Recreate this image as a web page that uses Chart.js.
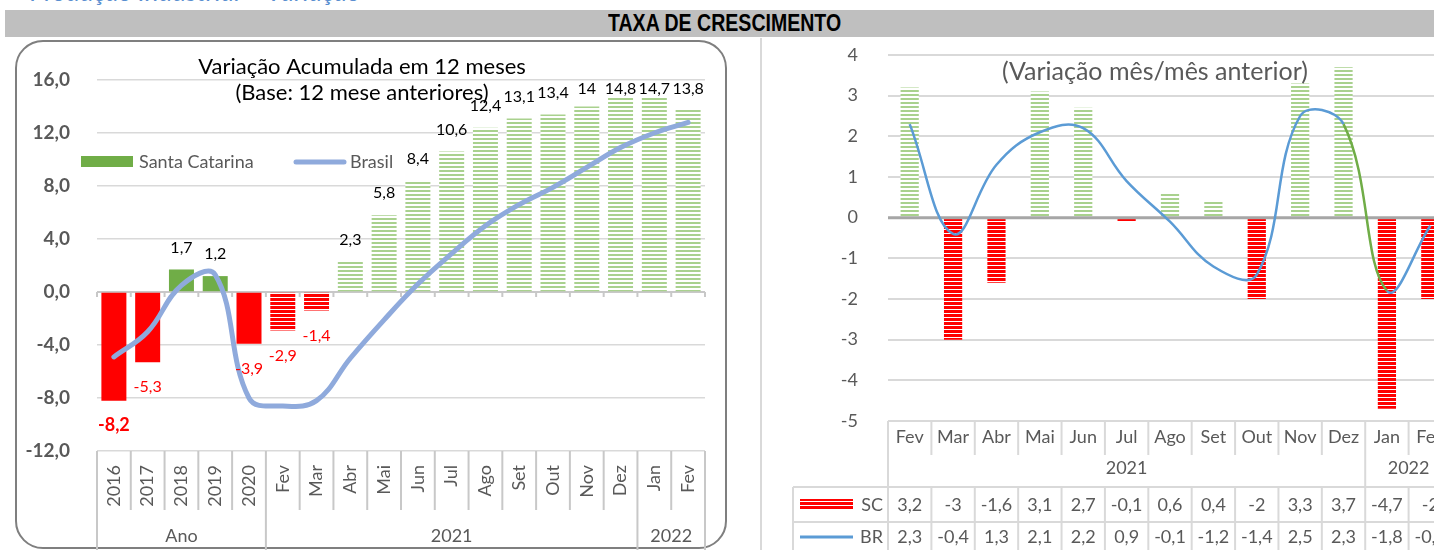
<!DOCTYPE html>
<html lang="pt-BR">
<head>
<meta charset="utf-8">
<title>Taxa de crescimento</title>
<script src="https://cdn.jsdelivr.net/npm/chart.js@4.4.0/dist/chart.umd.min.js"></script>
<style>
  body { margin: 0; width: 1434px; height: 550px; overflow: hidden; position: relative; background: #fff; font-family: Lato, sans-serif; }
  #topo { position: absolute; left: 30px; top: -25px; font: italic 26px Lato; color: #5b8fd0; white-space: nowrap; }
  #faixa { position: absolute; left: 5px; top: 10px; width: 1429px; height: 27px; background: #bfbfbf; }
  #faixa span { position: absolute; left: 603px; top: 0; line-height: 28px; font: bold 23px "Liberation Sans Narrow", "Arial Narrow", sans-serif; color: #000; transform: scaleX(0.85); transform-origin: left center; }
  #caixa { position: absolute; left: 15px; top: 40px; width: 708px; height: 505px; border: 2px solid #7f7f7f; border-radius: 28px; }
  #divisor { position: absolute; left: 760px; top: 38px; height: 512px; border-left: 2px solid #d9d9d9; }
  #c1 { position: absolute; left: 0; top: 38px; }
  #c2 { position: absolute; left: 762px; top: 38px; }
</style>
</head>
<body>
<div id="topo">Produção Industrial – Variação</div>
<div id="faixa"><span>TAXA DE CRESCIMENTO</span></div>
<div id="caixa"></div>
<div id="divisor"></div>
<canvas id="c1" width="740" height="512"></canvas>
<canvas id="c2" width="700" height="512"></canvas>
<script>
// grafico da esquerda - acumulado em 12 meses
var rotulos1 = ['2016', '2017', '2018', '2019', '2020', 'Fev', 'Mar', 'Abr', 'Mai', 'Jun', 'Jul', 'Ago', 'Set', 'Out', 'Nov', 'Dez', 'Jan', 'Fev'];
var grupos1 = ['Ano', '2021', '2022'];
var tamGrupos1 = [5, 11, 2];
var santaCatarina = [-8.2, -5.3, 1.7, 1.2, -3.9, -2.9, -1.4, 2.3, 5.8, 8.4, 10.6, 12.4, 13.1, 13.4, 14, 14.8, 14.7, 13.8];
var brasil = [-4.9, -3.0, 0.5, 1.3, -8.0, -8.6, -8.2, -5.0, -2.1, 0.6, 2.9, 5.0, 6.6, 7.9, 9.4, 10.9, 12.0, 12.8];

// grafico da direita - variacao mes/mes anterior
var rotulos2 = ['Fev', 'Mar', 'Abr', 'Mai', 'Jun', 'Jul', 'Ago', 'Set', 'Out', 'Nov', 'Dez', 'Jan', 'Fev'];
var grupos2 = ['2021', '2022'];
var tamGrupos2 = [11, 2];
var sc = [3.2, -3, -1.6, 3.1, 2.7, -0.1, 0.6, 0.4, -2, 3.3, 3.7, -4.7, -2];
var br = [2.3, -0.4, 1.3, 2.1, 2.2, 0.9, -0.1, -1.2, -1.4, 2.5, 2.3, -1.8, -0.2];

var cinza = '#595959';
var linhaGrade = '#d9d9d9';

function virgula(v) {
  return String(v).replace('.', ',');
}

// listras horizontais para as barras mensais
function listra(cor, faixa, vao) {
  var c = document.createElement('canvas');
  c.width = 8;
  c.height = faixa + vao;
  var g = c.getContext('2d');
  g.fillStyle = '#fff';
  g.fillRect(0, 0, 8, faixa + vao);
  g.fillStyle = cor;
  g.fillRect(0, 0, 8, faixa);
  return g.createPattern(c, 'repeat');
}
var listraVermelha = listra('#ff0000', 3, 1);
var listraVerde = listra('#a9d18e', 2, 2);

var cores1 = santaCatarina.map(function (v, i) {
  if (i < tamGrupos1[0]) return v < 0 ? '#ff0000' : '#70ad47';
  return v < 0 ? listraVermelha : listraVerde;
});
var cores2 = sc.map(function (v) { return v < 0 ? listraVermelha : listraVerde; });

function linha(g, x1, y1, x2, y2) {
  g.beginPath();
  g.moveTo(x1, y1);
  g.lineTo(x2, y2);
  g.stroke();
}

var extras1 = {
  id: 'extras1',
  beforeDatasetsDraw: function (c) {
    var g = c.ctx, a = c.chartArea, y = c.scales.y;
    var w = (a.right - a.left) / rotulos1.length;
    var y0 = y.getPixelForValue(0);
    g.save();
    g.strokeStyle = '#c8c8c8';
    g.lineWidth = 2;
    linha(g, a.left, y0, a.right, y0);
    for (var i = 0; i <= rotulos1.length; i++) {
      linha(g, a.left + i * w, y0, a.left + i * w, y0 + 5);
    }
    g.restore();
  },
  afterDatasetsDraw: function (c) {
    var g = c.ctx, a = c.chartArea;
    var barras = c.getDatasetMeta(0).data;
    g.save();
    g.textAlign = 'center';
    g.textBaseline = 'middle';
    barras.forEach(function (b, i) {
      var v = santaCatarina[i];
      if (v >= 0) {
        g.fillStyle = '#000';
        g.font = '16px Lato';
        g.fillText(virgula(v), b.x, Math.max(b.y - 22, a.top + 9));
      } else {
        g.fillStyle = '#ff0000';
        g.font = i == 0 ? 'bold 18px Lato' : '16px Lato';
        g.fillText(virgula(v), b.x, b.y + 25);
      }
    });
    g.restore();
  },
  afterDraw: function (c) {
    var g = c.ctx, a = c.chartArea, x = c.scales.x;
    var w = (a.right - a.left) / rotulos1.length;
    g.save();
    // divisorias do eixo de categorias
    g.strokeStyle = '#c8c8c8';
    g.lineWidth = 2;
    var limites = [0];
    tamGrupos1.reduce(function (s, n) { limites.push(s + n); return s + n; }, 0);
    for (var i = 0; i <= rotulos1.length; i++) {
      var fim = limites.indexOf(i) >= 0 ? c.height : a.bottom + 59;
      linha(g, a.left + i * w, a.bottom, a.left + i * w, fim);
    }
    g.fillStyle = cinza;
    g.font = '18px Lato';
    g.textBaseline = 'middle';
    rotulos1.forEach(function (r, i) {
      g.save();
      g.translate(x.getPixelForValue(i), a.bottom + 14);
      g.rotate(-Math.PI / 2);
      g.textAlign = 'right';
      g.fillText(r, 0, 0);
      g.restore();
    });
    g.textAlign = 'center';
    grupos1.forEach(function (r, k) {
      var meio = a.left + (limites[k] + limites[k + 1]) / 2 * w;
      g.fillText(r, meio, a.bottom + 85);
    });
    // titulo
    g.fillStyle = '#000';
    g.font = '22px Lato';
    g.fillText('Variação Acumulada em 12 meses', 362, 29);
    g.fillText('(Base: 12 mese anteriores)', 362, 55);
    // legenda
    g.fillStyle = '#70ad47';
    g.fillRect(81, 118, 52, 11);
    g.fillStyle = cinza;
    g.font = '18px Lato';
    g.textAlign = 'left';
    g.fillText('Santa Catarina', 139, 124);
    g.strokeStyle = '#8faadc';
    g.lineWidth = 5;
    g.lineCap = 'round';
    linha(g, 296, 124, 344, 124);
    g.fillText('Brasil', 350, 124);
    g.restore();
  }
};

new Chart(document.getElementById('c1'), {
  type: 'bar',
  data: {
    labels: rotulos1,
    datasets: [
      {
        label: 'Santa Catarina',
        data: santaCatarina,
        backgroundColor: cores1,
        borderWidth: 0,
        barPercentage: 0.74,
        categoryPercentage: 1,
        order: 2
      },
      {
        type: 'line',
        label: 'Brasil',
        data: brasil,
        borderColor: '#8faadc',
        borderWidth: 5,
        borderCapStyle: 'round',
        pointRadius: 0,
        tension: 0.4,
        fill: false,
        order: 1
      }
    ]
  },
  options: {
    responsive: false,
    animation: false,
    devicePixelRatio: 1,
    layout: { padding: { left: 0, top: 42, right: 35, bottom: 99 } },
    plugins: { legend: { display: false }, tooltip: { enabled: false } },
    scales: {
      x: { display: false },
      y: {
        min: -12,
        max: 16,
        afterFit: function (s) { s.width = 97; },
        border: { display: false },
        grid: { color: linhaGrade, lineWidth: 1.5, tickLength: 23, tickColor: 'transparent' },
        ticks: {
          stepSize: 4,
          padding: 4,
          color: cinza,
          font: { family: 'Lato', size: 19, weight: 'bold' },
          callback: function (v) { return v.toFixed(1).replace('.', ','); }
        }
      }
    }
  },
  plugins: [extras1]
});

var extras2 = {
  id: 'extras2',
  afterDatasetDraw: function (c, args) {
    if (args.index !== 0) return;
    var g = c.ctx, a = c.chartArea, y0 = c.scales.y.getPixelForValue(0);
    g.save();
    g.strokeStyle = '#a6a6a6';
    g.lineWidth = 3;
    linha(g, a.left, y0, a.right, y0);
    g.restore();
  },
  afterDraw: function (c) {
    var g = c.ctx, a = c.chartArea, x = c.scales.x;
    var w = (a.right - a.left) / rotulos2.length;
    var chave = 31;
    g.save();
    g.strokeStyle = linhaGrade;
    g.lineWidth = 2;
    var limites = [0];
    tamGrupos2.reduce(function (s, n) { limites.push(s + n); return s + n; }, 0);
    linha(g, a.left, a.bottom, a.right, a.bottom);
    linha(g, chave, a.bottom + 66, a.right, a.bottom + 66);
    linha(g, chave, a.bottom + 101, a.right, a.bottom + 101);
    linha(g, chave, a.bottom + 66, chave, c.height);
    for (var i = 0; i <= rotulos2.length; i++) {
      var px = a.left + i * w;
      linha(g, px, a.bottom, px, a.bottom + 34);
      linha(g, px, a.bottom + 66, px, c.height);
      if (limites.indexOf(i) >= 0) linha(g, px, a.bottom + 34, px, a.bottom + 66);
    }
    g.fillStyle = cinza;
    g.font = '18px Lato';
    g.textAlign = 'center';
    g.textBaseline = 'middle';
    rotulos2.forEach(function (r, i) {
      var px = x.getPixelForValue(i);
      g.fillText(r, px, a.bottom + 16);
      g.fillText(virgula(sc[i]), px, a.bottom + 84);
      g.fillText(virgula(br[i]), px, a.bottom + 116);
    });
    grupos2.forEach(function (r, k) {
      g.fillText(r, a.left + (limites[k] + limites[k + 1]) / 2 * w, a.bottom + 47);
    });
    // chaves da tabela
    g.textAlign = 'right';
    g.fillText('SC', 121, a.bottom + 84);
    g.fillText('BR', 121, a.bottom + 116);
    g.fillStyle = listraVermelha;
    g.fillRect(38, a.bottom + 78, 53, 11);
    g.strokeStyle = '#5b9bd5';
    g.lineWidth = 3;
    linha(g, 38, a.bottom + 116, 91, a.bottom + 116);
    // titulo
    g.fillStyle = cinza;
    g.font = '25px Lato';
    g.textAlign = 'center';
    g.fillText('(Variação mês/mês anterior)', 393, 34);
    g.restore();
  }
};

new Chart(document.getElementById('c2'), {
  type: 'bar',
  data: {
    labels: rotulos2,
    datasets: [
      {
        label: 'SC',
        data: sc,
        backgroundColor: cores2,
        borderWidth: 0,
        barPercentage: 0.42,
        categoryPercentage: 1,
        order: 2
      },
      {
        type: 'line',
        label: 'BR',
        data: br,
        borderColor: '#5b9bd5',
        borderWidth: 2.5,
        pointRadius: 0,
        tension: 0.4,
        fill: false,
        order: 1,
        segment: {
          borderColor: function (ctx) { return ctx.p0DataIndex === tamGrupos2[0] - 1 ? '#70ad47' : undefined; }
        }
      }
    ]
  },
  options: {
    responsive: false,
    animation: false,
    devicePixelRatio: 1,
    layout: { padding: { left: 0, top: 17, right: 10, bottom: 129 } },
    plugins: { legend: { display: false }, tooltip: { enabled: false } },
    scales: {
      x: { display: false },
      y: {
        min: -5,
        max: 4,
        afterFit: function (s) { s.width = 126; },
        border: { display: false },
        grid: { color: linhaGrade, lineWidth: 2, tickLength: 26, tickColor: 'transparent' },
        ticks: {
          stepSize: 1,
          padding: 4,
          color: cinza,
          font: { family: 'Lato', size: 18 }
        }
      }
    }
  },
  plugins: [extras2]
});
</script>
</body>
</html>
